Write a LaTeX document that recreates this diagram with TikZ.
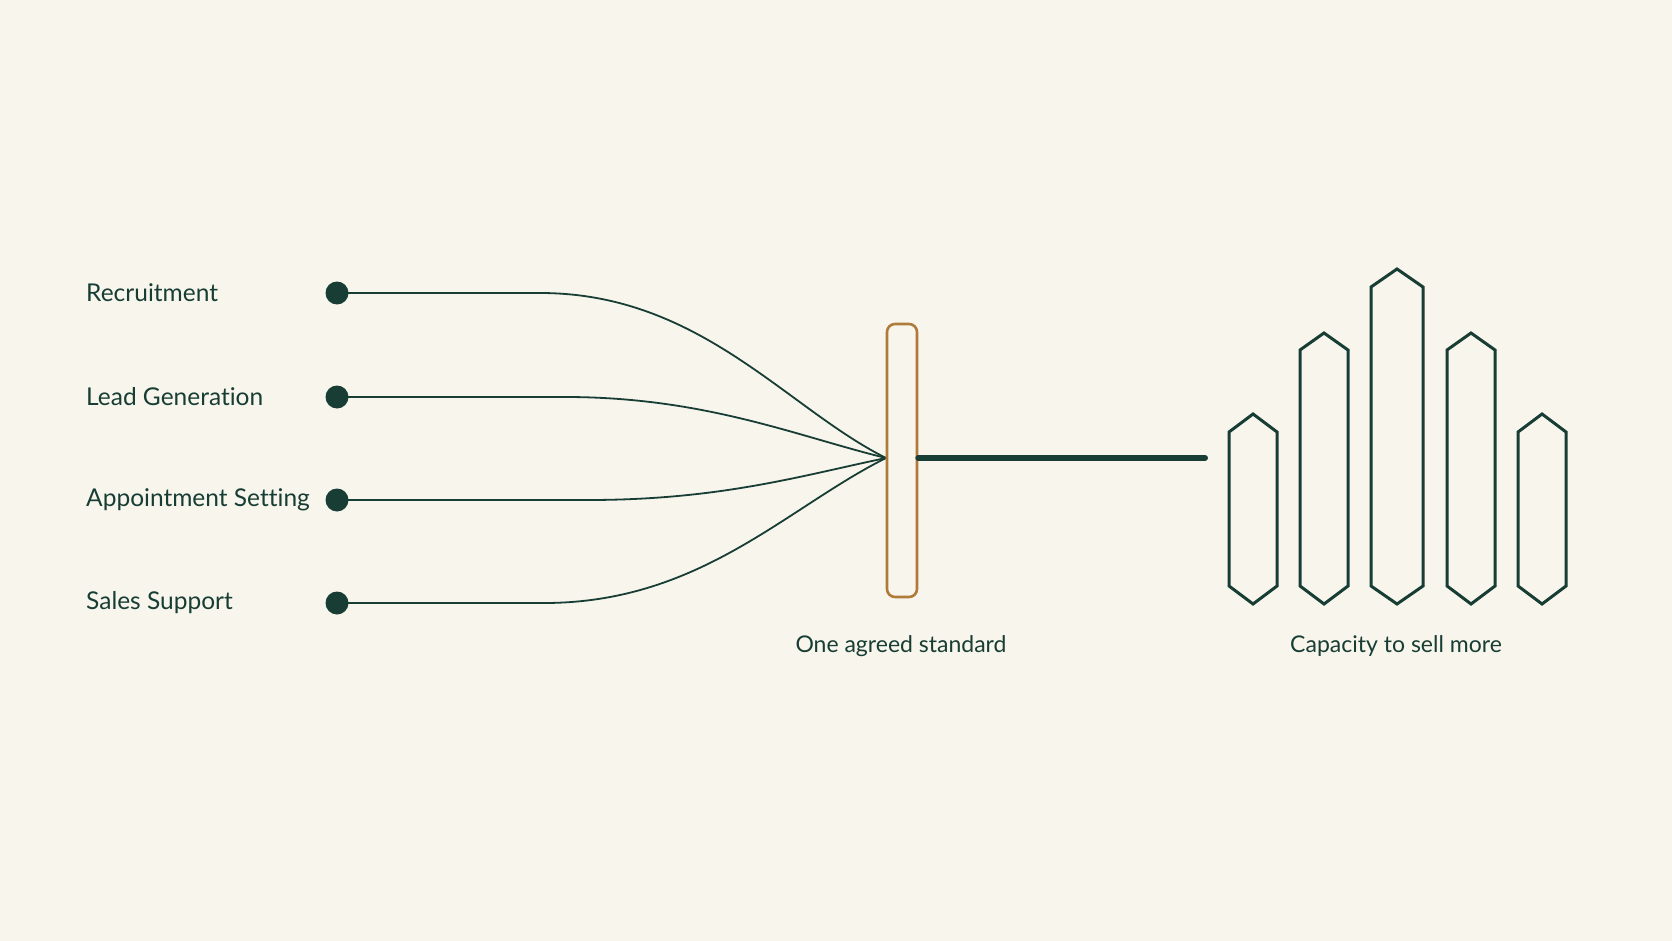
\documentclass[tikz,border=0pt]{standalone}
\usepackage{fontspec}
\setmainfont{Lato}[Ligatures=NoCommon]
\definecolor{bg}{HTML}{F8F5EC}
\definecolor{ink}{HTML}{173D34}
\definecolor{amber}{HTML}{B07A38}
\begin{document}
\begin{tikzpicture}[x=1pt,y=-1pt,
  lbl/.style={font=\fontsize{24.5}{29}\selectfont, text=ink, anchor=west, inner sep=0pt},
  captext/.style={font=\fontsize{23}{27}\selectfont, text=ink, inner sep=0pt},
  dot/.style={circle, fill=ink, minimum size=23pt, inner sep=0pt},
  wire/.style={draw=ink, line width=1.8pt},
  hexbar/.style={draw=ink, line width=3pt, line join=miter},
]
\fill[bg] (0,0) rectangle (1672,941);
\useasboundingbox (0,0) rectangle (1672,941);

% labels
\node[lbl] (l1) at (86,293) {Recruitment};
\node[lbl] (l2) at (86,397) {Lead Generation};
\node[lbl] (l3) at (86,500) {Appointment Setting};
\node[lbl] (l4) at (86,603) {Sales Support};

% dots
\node[dot] (d1) at (337,293) {};
\node[dot] (d2) at (337,397) {};
\node[dot] (d3) at (337,500) {};
\node[dot] (d4) at (337,603) {};

\coordinate (conv) at (886,458);

% wires
\draw[wire] (d1.center) -- (540,293) .. controls (700,293) and (786,408) .. (conv);
\draw[wire] (d2.center) -- (565,397) .. controls (705,397) and (796,436) .. (conv);
\draw[wire] (d3.center) -- (588,500) .. controls (720,500) and (800,476) .. (conv);
\draw[wire] (d4.center) -- (544,603) .. controls (700,603) and (786,508) .. (conv);

% standard bar
\node[draw=amber, line width=2.6pt, rounded corners=8pt, minimum width=30pt, minimum height=273pt, inner sep=0pt] (std) at (902,460.5) {};
\coordinate (lineend) at (1205,458);
\draw[draw=ink, line width=6pt, line cap=round] (std.east |- conv) -- (lineend);

% hexagon bars
\draw[hexbar] (1229,432) -- (1253,414) -- (1277,432) -- (1277,586) -- (1253,604) -- (1229,586) -- cycle;
\draw[hexbar] (1300,350) -- (1324,333) -- (1348,350) -- (1348,586) -- (1324,604) -- (1300,586) -- cycle;
\draw[hexbar] (1371,287) -- (1397,269) -- (1423,287) -- (1423,586) -- (1397,604) -- (1371,586) -- cycle;
\draw[hexbar] (1447,350) -- (1471,333) -- (1495,350) -- (1495,586) -- (1471,604) -- (1447,586) -- cycle;
\draw[hexbar] (1518,432) -- (1542,414) -- (1566,432) -- (1566,586) -- (1542,604) -- (1518,586) -- cycle;

% captions
\node[captext] (c1) at (901,646) {One agreed standard};
\node[captext] (c2) at (1396,646) {Capacity to sell more};
\end{tikzpicture}
\end{document}
